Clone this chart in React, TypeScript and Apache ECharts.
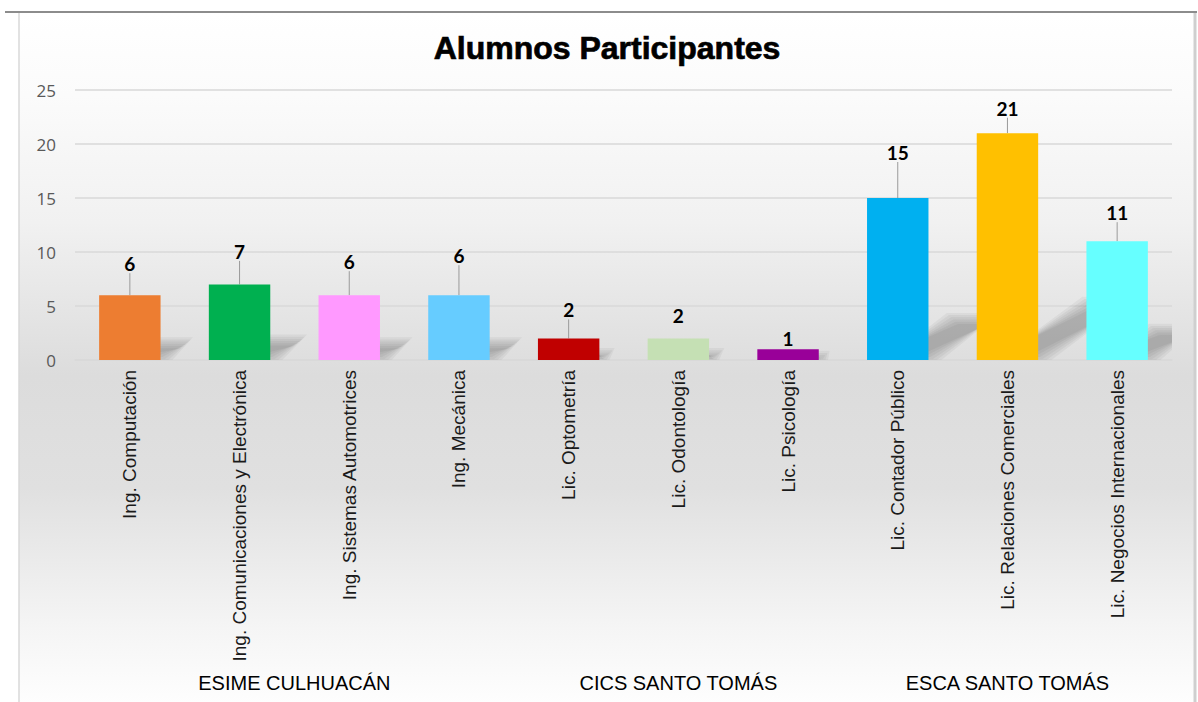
import React, { useEffect, useRef } from "react";
import * as echarts from "echarts";

const titleText = "Alumnos Participantes";
const categories = [
  "Ing. Computación",
  "Ing. Comunicaciones y Electrónica",
  "Ing. Sistemas Automotrices",
  "Ing. Mecánica",
  "Lic. Optometría",
  "Lic. Odontología",
  "Lic. Psicología",
  "Lic. Contador Público",
  "Lic. Relaciones Comerciales",
  "Lic. Negocios Internacionales",
];
const values = [6, 7, 6, 6, 2, 2, 1, 15, 21, 11];
const groupNames = ["ESIME CULHUACÁN", "CICS SANTO TOMÁS", "ESCA SANTO TOMÁS"];
const groupSizes = [4, 3, 3];
const yTicks = [0, 5, 10, 15, 20, 25];

// styles (not data)
const barColors = [
  "#ED7D31", "#00B050", "#FF99FF", "#66CCFF", "#C00000",
  "#C5E0B4", "#990099", "#00B0F0", "#FFC000", "#66FFFF",
];
const labelShift = [-17, -18.5, -19, -25, -14, -8, 4, -31, -10.5, -14];
const showLeader = [true, true, true, true, true, false, false, true, true, true];

export default function App() {
  const ref = useRef<HTMLDivElement>(null);
  useEffect(() => {
    if (!ref.current) return;
    const chart = echarts.init(ref.current, undefined, { renderer: "svg" });

    const groupCenters: Record<string, string> = {};
    let start = 0;
    groupSizes.forEach((n, i) => {
      const c = start + (n - 1) / 2;
      groupCenters[String(c)] = groupNames[i];
      start += n;
    });

    const option: any = {
      animation: false,
      backgroundColor: "#ffffff",
      graphic: [
        {
          type: "rect",
          z: -10,
          silent: true,
          shape: { x: 19, y: 12, width: 1176, height: 700 },
          style: {
            fill: new echarts.graphic.LinearGradient(0, 0, 0, 1, [
              { offset: 0, color: "#ffffff" },
              { offset: 0.12, color: "#fbfbfb" },
              { offset: 0.3, color: "#f1f1f1" },
              { offset: 0.52, color: "#dcdcdc" },
              { offset: 0.68, color: "#e0e0e0" },
              { offset: 0.88, color: "#f5f5f5" },
              { offset: 1, color: "#ffffff" },
            ]),
          },
        },
        {
          type: "line",
          z: -5,
          silent: true,
          shape: { x1: 5, y1: 12, x2: 1197, y2: 12 },
          style: { stroke: "#8c8c8c", lineWidth: 2 },
        },
        {
          type: "line",
          z: -5,
          silent: true,
          shape: { x1: 19, y1: 13, x2: 19, y2: 702 },
          style: { stroke: "#d9d9d9", lineWidth: 1.5 },
        },
        {
          type: "line",
          z: -5,
          silent: true,
          shape: { x1: 1195, y1: 13, x2: 1195, y2: 702 },
          style: { stroke: "#cfcfcf", lineWidth: 3 },
        },
        {
          type: "text",
          z: 10,
          x: 607,
          y: 48,
          style: {
            text: titleText,
            textAlign: "center",
            textVerticalAlign: "middle",
            fontFamily: "Liberation Sans",
            fontWeight: "bold",
            fontSize: 32,
            fill: "#000000",
            stroke: "#000000",
            lineWidth: 0.7,
          },
        },
      ],
      grid: { left: 75, right: 26, top: 90, bottom: 342 },
      xAxis: [
        {
          type: "category",
          data: categories,
          axisLine: { show: true, lineStyle: { color: "#d9d9d9", width: 1.5 } },
          axisTick: { show: false },
          axisLabel: {
            interval: 0,
            rotate: 90,
            margin: 10,
            fontFamily: "Liberation Sans",
            fontSize: 19,
            color: "#1a1a1a",
          },
        },
        {
          type: "value",
          position: "bottom",
          offset: 305,
          min: -0.5,
          max: 9.5,
          interval: 0.5,
          axisLine: { show: false },
          axisTick: { show: false },
          splitLine: { show: false },
          axisLabel: {
            margin: 8,
            fontFamily: "Liberation Sans",
            fontSize: 20,
            color: "#000000",
            showMinLabel: true,
            showMaxLabel: true,
            formatter: (v: number) => groupCenters[String(v)] || "",
          },
        },
      ],
      yAxis: {
        type: "value",
        min: yTicks[0],
        max: yTicks[yTicks.length - 1],
        interval: yTicks[1] - yTicks[0],
        axisLine: { show: false },
        axisTick: { show: false },
        splitLine: { lineStyle: { color: "#d9d9d9", width: 1.5 } },
        axisLabel: {
          margin: 19,
          fontFamily: "Open Sans",
          fontSize: 17,
          color: "#595959",
        },
      },
      series: [
        {
          type: "custom",
          xAxisIndex: 0,
          clip: true,
          silent: true,
          z: 1,
          data: values.map((v, i) => [i, v]),
          renderItem: (params: any, api: any) => {
            const idx = api.value(0);
            const val = api.value(1);
            const base = api.coord([idx, 0]);
            const top = api.coord([idx, val]);
            const band = api.size([1, 0])[0];
            const w = band * 0.56;
            const barH = base[1] - top[1];
            const h = barH * 0.25;
            const s = h * 1.6;
            const xl = base[0] - w / 2 + w * 0.35;
            const xr = base[0] + w / 2;
            const y0 = base[1] - 3;
            const y1 = base[1] - h;
            const children = [];
            for (let k = 0; k < 6; k++) {
              const p = (k - 2) * 2.2;
              children.push({
                type: "polygon",
                shape: {
                  points: [
                    [xl - p, y0 + p],
                    [xr + 2 + p, y0 + p],
                    [xr + s + p, y1 - p],
                    [xl + s - p, y1 - p],
                  ],
                },
                style: { fill: "rgba(0,0,0,0.042)" },
              });
            }
            return { type: "group", children };
          },
        },
        {
          type: "bar",
          xAxisIndex: 0,
          barWidth: "56%",
          z: 3,
          data: values.map((v, i) => ({
            value: v,
            itemStyle: { color: barColors[i] },
            labelLine: { show: showLeader[i] },
          })),
          label: {
            show: true,
            position: "top",
            distance: 5,
            fontFamily: "Lato",
            fontWeight: "bold",
            fontSize: 19,
            color: "#000000",
          },
          labelLayout: (params: any) => ({ dy: labelShift[params.dataIndex] }),
          labelLine: {
            show: true,
            lineStyle: { color: "#9a9a9a", width: 1 },
          },
        },
      ],
    };
    chart.setOption(option);
    return () => chart.dispose();
  }, []);
  return (
    <div
      ref={ref}
      style={{ position: "fixed", left: 0, top: 0, width: 1198, height: 702 }}
    />
  );
}
